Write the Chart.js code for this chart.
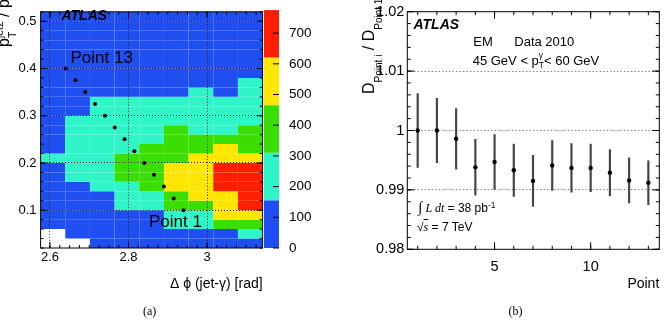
<!DOCTYPE html>
<html>
<head>
<meta charset="utf-8">
<script src="https://cdn.jsdelivr.net/npm/chart.js@4.4.1/dist/chart.umd.min.js"></script>
<style>
  body { margin: 0; width: 666px; height: 321px; background: #fff; position: relative; overflow: hidden;
         font-family: 'Liberation Sans', Arial, sans-serif; }
  canvas { position: absolute; top: 0; }
  .txt { position: absolute; white-space: nowrap; line-height: 1.8; color: #000; }
  .rot { transform-origin: 0 0; transform: rotate(-90deg); }
  .ss { display: inline-block; font-size: 0.65em; line-height: 1.25; vertical-align: -0.4em; text-align: left; }
  .ss > span { display: block; }
  .sb { font-size: 10px; vertical-align: -7.5px; }
  .serif { font-family: 'Liberation Serif', 'Times New Roman', serif; }
  sup { font-size: 0.7em; vertical-align: 0.5em; line-height: 1; }
</style>
</head>
<body>
<canvas id="heatChart" width="266" height="300" style="left:0"></canvas>
<canvas id="zBar" width="57" height="300" style="left:263px"></canvas>
<canvas id="ratioChart" width="336" height="300" style="left:330px"></canvas>

<!-- panel (a) texts -->
<div class="txt" style="left:61.5px; top:2.9px; font-size:14px; font-weight:bold; font-style:italic;">ATLAS</div>
<div class="txt" style="left:70.5px; top:42.8px; font-size:17px;">Point 13</div>
<div class="txt" style="left:149px; top:207.1px; font-size:17px;">Point 1</div>
<div class="txt rot" style="left:-10.4px; top:47px; font-size:16px;">p<span class="ss" style="vertical-align:-0.67em"><span>jet2</span><span>T</span></span> / p<span class="ss" style="vertical-align:-0.67em"><span>γ</span><span>T</span></span></div>
<div class="txt serif" style="left:143px; top:301px; font-size:12px;">(a)</div>

<!-- panel (b) texts -->
<div class="txt" style="left:413.5px; top:11.9px; font-size:14px; font-weight:bold; font-style:italic;">ATLAS</div>
<div class="txt" style="left:473.3px; top:29.5px; font-size:13px;">EM</div>
<div class="txt" style="left:514.3px; top:29.5px; font-size:13px;">Data 2010</div>
<div class="txt" style="left:472.7px; top:48.8px; font-size:13px;">45 GeV &lt; p<span class="ss"><span>γ</span><span>T</span></span>&lt; 60 GeV</div>
<div class="txt" style="left:418px; top:197.7px; font-size:12px;"><span class="serif" style="font-size:15px; line-height:1;">∫</span> <span class="serif"><i>L dt</i></span> = 38 pb<sup>-1</sup></div>
<div class="txt" style="left:417px; top:216.7px; font-size:12px;">√<span class="serif" style="text-decoration:overline;"><i>s</i></span> = 7 TeV</div>
<div class="txt rot" style="left:355.1px; top:94px; font-size:16px;">D<span class="sb">Point i</span> / D<span class="sb">Point 1</span></div>
<div class="txt serif" style="left:508.5px; top:301px; font-size:12px;">(b)</div>

<script>
// (a) bin edges of the 2D histogram
const dphiEdges = [2.5761, 2.6389, 2.7018, 2.7646, 2.8274, 2.8903, 2.9531, 3.0159, 3.0788, 3.1416];
const ratioEdges = [0.02, 0.04, 0.06, 0.08, 0.1, 0.12, 0.14, 0.16, 0.18, 0.2, 0.22, 0.24, 0.26,
                    0.28, 0.3, 0.32, 0.34, 0.36, 0.38, 0.4, 0.42, 0.44, 0.46, 0.48, 0.5, 0.52];

// entries per bin: one row per pT ratio bin (bottom first), one column per dphi bin
const entries = [
    [0, 0, 22, 35, 48, 61, 70, 58, 74],
    [0, 18, 40, 56, 72, 95, 110, 121, 168],
    [12, 31, 62, 88, 120, 172, 190, 338, 352],
    [20, 47, 85, 128, 149, 231, 256, 489, 512],
    [27, 60, 112, 171, 226, 331, 395, 560, 641],
    [33, 78, 140, 213, 290, 402, 486, 584, 702],
    [38, 96, 163, 254, 341, 498, 573, 655, 748],
    [41, 158, 197, 318, 402, 541, 600, 721, 760],
    [44, 172, 230, 356, 430, 569, 612, 738, 771],
    [160, 188, 244, 340, 414, 452, 590, 603, 592],
    [46, 191, 251, 302, 383, 427, 448, 517, 436],
    [43, 186, 262, 291, 300, 392, 411, 388, 404],
    [40, 179, 247, 268, 285, 336, 297, 281, 357],
    [37, 162, 226, 242, 254, 276, 268, 249, 283],
    [32, 130, 203, 217, 229, 243, 262, 231, 258],
    [28, 112, 176, 182, 188, 194, 237, 196, 226],
    [24, 95, 128, 135, 141, 148, 189, 150, 205],
    [20, 80, 105, 112, 118, 126, 141, 130, 178],
    [16, 66, 88, 93, 97, 104, 112, 108, 134],
    [13, 52, 71, 76, 80, 85, 92, 88, 101],
    [10, 41, 57, 61, 64, 69, 74, 70, 82],
    [8, 32, 45, 48, 51, 55, 58, 55, 64],
    [6, 24, 34, 37, 39, 42, 45, 43, 49],
    [4, 17, 25, 27, 29, 31, 33, 32, 36],
    [3, 11, 17, 19, 20, 22, 24, 23, 26]
];

// colour palette contours
const zBands = [0, 155, 310, 465, 620, 775];
const zColours = ['#1f4ff0', '#30f5c8', '#3ade00', '#ffe600', '#ff1e00'];
const zTicks = [0, 100, 200, 300, 400, 500, 600, 700];

const heatXTicks = [2.6, 2.8, 3];
const heatYTicks = [0.1, 0.2, 0.3, 0.4, 0.5];

// the 13 selection points, point 1 first
const cutDphi = [2.94, 2.915, 2.89, 2.865, 2.84, 2.815, 2.79, 2.765, 2.74, 2.715, 2.69, 2.665, 2.64];
const cutRatio = [0.1, 0.125, 0.15, 0.175, 0.2, 0.225, 0.25, 0.275, 0.3, 0.325, 0.35, 0.375, 0.4];

// (b) D(point i) / D(point 1)
const pointIdx = [1, 2, 3, 4, 5, 6, 7, 8, 9, 10, 11, 12, 13];
const ratioValues = [1.0, 1.0, 0.9986, 0.9938, 0.9947, 0.9933, 0.9915, 0.9941, 0.9937, 0.9937, 0.9929, 0.9916, 0.9912];
const ratioErrors = [0.0062, 0.0054, 0.0051, 0.0047, 0.0046, 0.0044, 0.0043, 0.0042, 0.0041, 0.0040, 0.0039, 0.0038, 0.0037];
const pointTicks = [5, 10];
const ratioTicks = [0.98, 0.99, 1, 1.01, 1.02];

Chart.defaults.font.family = "'Liberation Sans', Arial, sans-serif";
Chart.defaults.color = '#000';

/////////////////////
// Helper function //
/////////////////////

function steps(from, to, step) {
    // positions of minor tick marks
    const out = [];
    for (let v = from; v <= to + step / 100; v += step) {
        out.push(Math.round(v * 10000) / 10000);
    }
    return out;
}

function bandColour(n) {
    for (let i = 0; i < zColours.length; i++) {
        if (n < zBands[i + 1]) return zColours[i];
    }
    return zColours[zColours.length - 1];
}

// ROOT style frame with ticks pointing inwards
function makeFrameTicks(conf) {
    return {
        id: 'frameTicks',
        afterDraw(chart) {
            const { ctx, chartArea: area, scales } = chart;
            ctx.save();
            ctx.strokeStyle = '#000';
            ctx.lineWidth = 1;
            if (conf.frame) {
                ctx.strokeRect(area.left, area.top, area.width, area.height);
            }
            const drawSet = (axis, values, len) => {
                const scale = scales[axis];
                ctx.beginPath();
                values.forEach(v => {
                    if (v < scale.min || v > scale.max) return;
                    const p = scale.getPixelForValue(v);
                    conf[axis].sides.forEach(side => {
                        if (side === 'bottom') { ctx.moveTo(p, area.bottom); ctx.lineTo(p, area.bottom - len); }
                        if (side === 'top') { ctx.moveTo(p, area.top); ctx.lineTo(p, area.top + len); }
                        if (side === 'left') { ctx.moveTo(area.left, p); ctx.lineTo(area.left + len, p); }
                        if (side === 'right') { ctx.moveTo(area.right, p); ctx.lineTo(area.right - len, p); }
                    });
                });
                ctx.stroke();
            };
            ['x', 'y'].forEach(axis => {
                if (!conf[axis]) return;
                drawSet(axis, conf[axis].minor || [], conf.minorLen);
                drawSet(axis, conf[axis].major || [], conf.majorLen);
            });
            ctx.restore();
        }
    };
}

/////////////////
// (a) heatmap //
/////////////////

const cells = [];
const cellColours = [];
entries.forEach((row, r) => {
    row.forEach((n, c) => {
        if (n <= 0) return; // empty bins stay white
        cells.push({ x: (dphiEdges[c] + dphiEdges[c + 1]) / 2, y: [ratioEdges[r], ratioEdges[r + 1]] });
        cellColours.push(bandColour(n));
    });
});

const cutPoints = cutDphi.map((x, i) => ({ x: x, y: cutRatio[i] }));

new Chart(document.getElementById('heatChart'), {
    type: 'bar',
    data: {
        datasets: [
            {
                type: 'scatter',
                data: cutPoints,
                pointRadius: 2,
                pointBackgroundColor: '#000',
                pointBorderWidth: 0,
                order: 0
            },
            {
                data: cells,
                backgroundColor: cellColours,
                borderWidth: 0,
                inflateAmount: 0,
                barPercentage: 1,
                categoryPercentage: 1,
                order: 1
            }
        ]
    },
    options: {
        responsive: false,
        animation: false,
        devicePixelRatio: 1,
        events: [],
        layout: { autoPadding: false, padding: { top: 5, right: 3.4, left: 0, bottom: 0 } },
        plugins: { legend: { display: false }, tooltip: { enabled: false } },
        scales: {
            x: {
                type: 'linear',
                min: dphiEdges[0],
                max: dphiEdges[dphiEdges.length - 1],
                offset: false,
                afterFit: s => { s.height = 52; },
                afterBuildTicks: s => { s.ticks = heatXTicks.map(v => ({ value: v })); },
                ticks: { callback: v => String(v), padding: 2, font: { size: 13 }, maxRotation: 0, autoSkip: false },
                grid: { offset: false, z: 1, color: '#222', drawTicks: false },
                border: { display: false, dash: [1, 2] },
                title: { display: true, text: 'Δ ϕ (jet-γ) [rad]', align: 'end', font: { size: 14 }, padding: { top: 0, bottom: 7.6 } }
            },
            y: {
                min: ratioEdges[0],
                max: ratioEdges[ratioEdges.length - 1],
                afterFit: s => { s.width = 40.6; },
                afterBuildTicks: s => { s.ticks = heatYTicks.map(v => ({ value: v })); },
                ticks: { callback: v => String(v), padding: 4, font: { size: 13 }, autoSkip: false },
                grid: { z: 1, color: '#222', drawTicks: false },
                border: { display: false, dash: [1, 2] }
            }
        }
    },
    plugins: [makeFrameTicks({
        frame: true,
        majorLen: 6,
        minorLen: 3,
        x: { major: heatXTicks, minor: steps(2.575, 3.15, 0.025), sides: ['bottom', 'top'] },
        y: { major: heatYTicks, minor: steps(0.02, 0.52, 0.02), sides: ['left', 'right'] }
    })]
});

// colour scale next to the heatmap
new Chart(document.getElementById('zBar'), {
    type: 'bar',
    data: {
        labels: ['z'],
        datasets: zColours.map((col, i) => ({
            data: [[zBands[i], zBands[i + 1]]],
            backgroundColor: col,
            borderWidth: 0,
            grouped: false,
            inflateAmount: 0,
            barPercentage: 1,
            categoryPercentage: 1
        }))
    },
    options: {
        responsive: false,
        animation: false,
        devicePixelRatio: 1,
        events: [],
        layout: { autoPadding: false, padding: { top: 5, right: 0, left: 1, bottom: 52 } },
        plugins: { legend: { display: false }, tooltip: { enabled: false } },
        scales: {
            x: { display: false },
            y: {
                position: 'right',
                min: zBands[0],
                max: zBands[zBands.length - 1],
                afterFit: s => { s.width = 41; },
                afterBuildTicks: s => { s.ticks = zTicks.map(v => ({ value: v })); },
                ticks: { callback: v => String(v), padding: 2, font: { size: 13.5 }, autoSkip: false },
                grid: { display: false },
                border: { display: false }
            }
        }
    },
    plugins: [makeFrameTicks({
        frame: false,
        majorLen: 6,
        minorLen: 3,
        y: { major: zTicks, minor: [], sides: ['right'] }
    })]
});

///////////////////////
// (b) ratio vs point //
///////////////////////

const ratioPoints = pointIdx.map((p, i) => ({ x: p, y: ratioValues[i] }));
const ratioBars = pointIdx.map((p, i) => ({ x: p, y: [ratioValues[i] - ratioErrors[i], ratioValues[i] + ratioErrors[i]] }));

new Chart(document.getElementById('ratioChart'), {
    type: 'bar',
    data: {
        datasets: [
            {
                type: 'scatter',
                data: ratioPoints,
                pointRadius: 2.2,
                pointBackgroundColor: '#000',
                pointBorderWidth: 0,
                order: 0
            },
            {
                data: ratioBars,
                backgroundColor: '#444',
                barThickness: 1.5,
                borderWidth: 0,
                order: 1
            }
        ]
    },
    options: {
        responsive: false,
        animation: false,
        devicePixelRatio: 1,
        events: [],
        layout: { autoPadding: false, padding: { top: 7.3, right: 6.7, left: 0, bottom: 0 } },
        plugins: { legend: { display: false }, tooltip: { enabled: false } },
        scales: {
            x: {
                type: 'linear',
                min: 0.46,
                max: 13.57,
                offset: false,
                afterFit: s => { s.height = 50.7; },
                afterBuildTicks: s => { s.ticks = pointTicks.map(v => ({ value: v })); },
                ticks: { callback: v => String(v), padding: 1, font: { size: 14.5 }, maxRotation: 0, autoSkip: false },
                grid: { display: false, offset: false },
                border: { display: false },
                title: { display: true, text: 'Point', align: 'end', font: { size: 14 }, padding: { top: 0, bottom: 7.6 } }
            },
            y: {
                min: ratioTicks[0],
                max: ratioTicks[ratioTicks.length - 1],
                afterFit: s => { s.width = 77.3; },
                afterBuildTicks: s => { s.ticks = ratioTicks.map(v => ({ value: v })); },
                ticks: { callback: v => String(v), padding: 3, font: { size: 14.5 }, autoSkip: false },
                grid: {
                    drawTicks: false,
                    color: c => (c.index === 0 || c.index === ratioTicks.length - 1) ? 'rgba(0,0,0,0)' : '#888'
                },
                border: { display: false, dash: [1.5, 2] }
            }
        }
    },
    plugins: [makeFrameTicks({
        frame: true,
        majorLen: 7,
        minorLen: 3.5,
        x: { major: pointTicks, minor: pointIdx, sides: ['bottom', 'top'] },
        y: { major: ratioTicks, minor: steps(0.98, 1.02, 0.002), sides: ['left', 'right'] }
    })]
});
</script>
</body>
</html>
